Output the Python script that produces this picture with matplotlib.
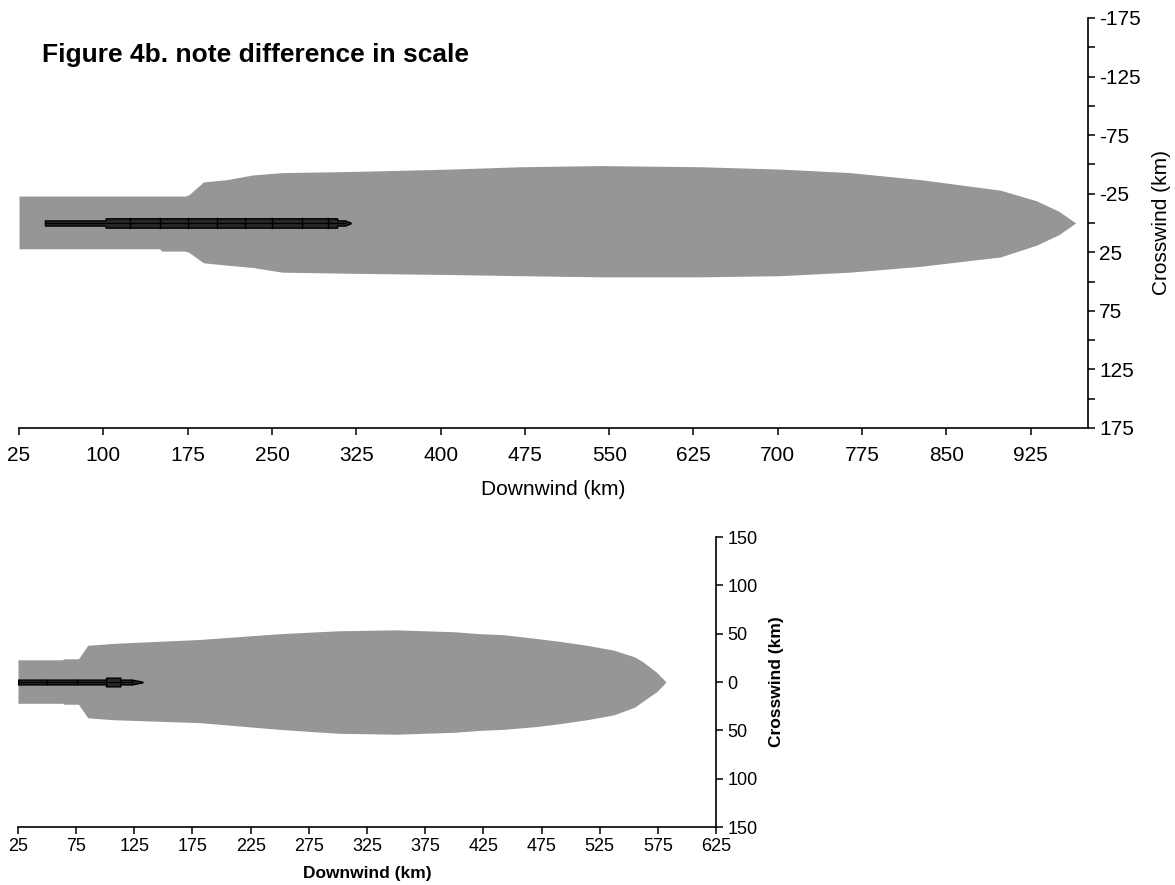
import numpy as np
import matplotlib.pyplot as plt
from matplotlib.ticker import FuncFormatter

plt.rcParams['axes.unicode_minus'] = False

# ---- top panel: plume out to ~1000 km ----
top_x = [25, 150, 152, 173, 176, 189, 210, 233, 259, 324, 408, 471, 542, 631, 702, 764, 827, 898, 930, 950, 965]
top_upper = [-23, -23, -23, -23, -24, -35, -37, -41, -43, -44, -46, -48, -49, -48, -46, -43, -37, -28, -19, -10, 0]
top_lower = [22, 22, 24, 24, 25, 34, 36, 38, 42, 43, 44, 45, 46, 46, 45, 42, 37, 29, 19, 10, 0]
top_core_x = [48, 102, 102, 308, 308, 315, 320]
top_core_half = [2.2, 2.2, 4.0, 4.0, 2.2, 2.2, 0.3]
top_core_div = [124, 150, 175, 201, 226, 250, 277, 300]
top_xticks = list(range(25, 926, 75))
top_yticks = [-175, -125, -75, -25, 25, 75, 125, 175]
top_yminor = [-150, -100, -50, 0, 50, 100, 150]

# ---- bottom panel: plume out to ~600 km ----
bot_x = [25, 63, 65, 77, 85, 107, 181, 250, 300, 350, 400, 422, 442, 471, 491, 514, 537, 555, 562, 574, 582]
bot_upper = [23, 23, 24, 24, 38, 40, 44, 50, 53, 54, 52, 50, 49, 45, 42, 38, 33, 26, 21, 10, 0]
bot_lower = [-22, -22, -23, -23, -37, -39, -42, -49, -53, -54, -52, -50, -49, -46, -43, -39, -34, -26, -20, -10, 0]
bot_core_x = [25, 101, 101, 113, 113, 123, 132]
bot_core_half = [2.5, 2.5, 4.5, 4.5, 2.5, 2.5, 0.3]
bot_core_div = [50, 76, 101, 113, 123]
bot_xticks = list(range(25, 626, 50))
bot_yticks = [-150, -100, -50, 0, 50, 100, 150]

plume_col = '#969794'
core_col = '#262626'
arial = ['Liberation Sans', 'DejaVu Sans']

fig = plt.figure(figsize=(11.75, 8.85), dpi=100)


def draw_plume(ax, x, up, lo, cx, ch, cdiv):
    ax.fill_between(x, up, lo, color=plume_col, lw=0)
    ch = np.array(ch)
    ax.fill_between(cx, -ch, ch, facecolor=core_col, edgecolor='black', lw=1)
    ax.plot([cx[0], cx[-2]], [0, 0], color='black', lw=0.8)
    for d in cdiv:
        h = np.interp(d, cx, ch)
        ax.plot([d, d], [-h, h], color='black', lw=1)


def style(ax, pad):
    for s in ['top', 'left']:
        ax.spines[s].set_visible(False)
    ax.spines['right'].set_linewidth(1.2)
    ax.spines['bottom'].set_linewidth(1.2)
    ax.yaxis.tick_right()
    ax.yaxis.set_label_position('right')
    ax.tick_params(which='both', direction='out', length=5, width=1.1, pad=pad)


# top
ax1 = fig.add_axes([0.0162, 0.5164, 0.9098, 0.4633])
draw_plume(ax1, top_x, top_upper, top_lower, top_core_x, top_core_half, top_core_div)
ax1.set_xlim(25, 976)
ax1.set_ylim(175, -175)
ax1.set_xticks(top_xticks)
ax1.set_yticks(top_yticks)
ax1.set_yticks(top_yminor, minor=True)
style(ax1, 3)
ax1.tick_params(axis='x', pad=8)
for lab in ax1.get_xticklabels() + ax1.get_yticklabels():
    lab.set_family(arial)
    lab.set_fontsize(15)
ax1.set_xlabel('Downwind (km)', family=arial, fontsize=15, labelpad=11)
ax1.set_ylabel('Crosswind (km)', family=arial, fontsize=15, labelpad=8)

fig.text(0.036, 0.938, 'Figure 4b. note difference in scale', family=arial,
         fontweight='bold', fontsize=19, va='center', ha='left')

# bottom
ax2 = fig.add_axes([0.0153, 0.0655, 0.5941, 0.3277])
draw_plume(ax2, bot_x, bot_upper, bot_lower, bot_core_x, bot_core_half, bot_core_div)
ax2.set_xlim(25, 625)
ax2.set_ylim(-150, 150)
ax2.set_xticks(bot_xticks)
ax2.set_yticks(bot_yticks)
ax2.yaxis.set_major_formatter(FuncFormatter(lambda v, p: '%d' % abs(v)))
style(ax2, 3)
for lab in ax2.get_xticklabels() + ax2.get_yticklabels():
    lab.set_family(arial)
    lab.set_fontsize(13)
ax2.set_xlabel('Downwind (km)', family=arial, fontweight='bold', fontsize=12.5, labelpad=8)
ax2.set_ylabel('Crosswind (km)', family=arial, fontweight='bold', fontsize=12.5, labelpad=8)

fig.savefig('out.png', dpi=100)
